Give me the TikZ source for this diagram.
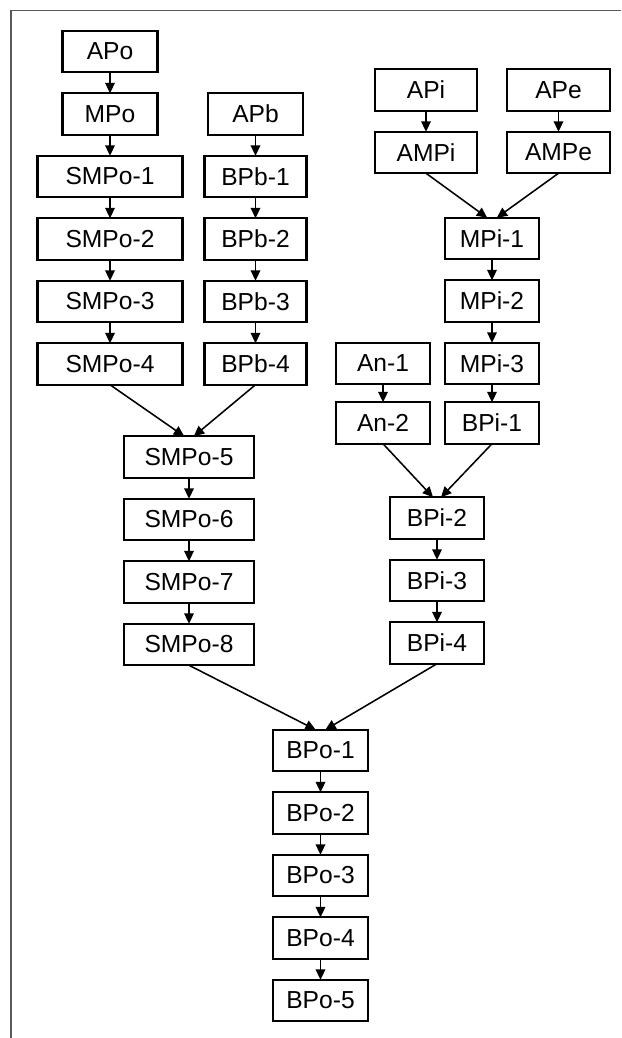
\documentclass[tikz,border=0pt]{standalone}
\usepackage{fontspec}
\setmainfont{Liberation Sans}
\usetikzlibrary{arrows.meta, positioning}

\begin{document}
\begin{tikzpicture}[
    node distance=0.525cm,
    every node/.style={font=\fontsize{17.5}{20}\selectfont},
    box/.style={rectangle, draw, line width=1.5pt, outer sep=0pt, inner sep=2pt, minimum width=2.375cm, minimum height=1.0375cm},
    widebox/.style={box, minimum width=3.625cm},
    midbox/.style={box, minimum width=3.25cm},
    arrow/.style={-{Triangle[length=2.6mm, width=2.4mm]}, line width=1.1pt},
    frame/.style={draw=black!65, line width=1.2pt}
]

\useasboundingbox (0, 0) rectangle (15.525, -25.95);

% page frame (top and left edge only)
\draw[frame] (15.525, -0.2625) -- (0.275, -0.2625) -- (0.275, -25.95);

% ============ OUTER BRANCH ============
\node[box] (apo) at (2.75, -1.2875) {APo};
\node[box, below=of apo] (mpo) {MPo};
\node[widebox, below=of mpo] (smpo1) {SMPo-1};
\node[widebox, below=of smpo1] (smpo2) {SMPo-2};
\node[widebox, below=of smpo2] (smpo3) {SMPo-3};
\node[widebox, below=of smpo3] (smpo4) {SMPo-4};

% side chain
\node[box] (apb) at (6.3875, -2.85) {APb};
\node[box, minimum width=2.55cm, below=of apb] (bpb1) {BPb-1};
\node[box, minimum width=2.55cm, below=of bpb1] (bpb2) {BPb-2};
\node[box, minimum width=2.55cm, below=of bpb2] (bpb3) {BPb-3};
\node[box, minimum width=2.55cm, below=of bpb3] (bpb4) {BPb-4};

% merged part
\node[midbox] (smpo5) at (4.725, -11.425) {SMPo-5};
\node[midbox, below=of smpo5] (smpo6) {SMPo-6};
\node[midbox, below=of smpo6] (smpo7) {SMPo-7};
\node[midbox, below=of smpo7] (smpo8) {SMPo-8};

% ============ INNER BRANCH ============
\node[box, minimum width=2.55cm] (api) at (10.65, -2.25) {APi};
\node[box, minimum width=2.55cm, below=of api] (ampi) {AMPi};
\node[box, minimum width=2.575cm] (ape) at (13.9625, -2.25) {APe};
\node[box, minimum width=2.575cm, below=of ape] (ampe) {AMPe};

\node[box, minimum width=2.35cm] (mpi1) at (12.3, -5.9625) {MPi-1};
\node[box, minimum width=2.35cm, below=of mpi1] (mpi2) {MPi-2};
\node[box, minimum width=2.35cm, below=of mpi2] (mpi3) {MPi-3};
\node[box, minimum width=2.35cm, below=0.45cm of mpi3] (bpi1) {BPi-1};

\node[box, minimum width=2.35cm] (an1) at (9.575, -9.0875) {An-1};
\node[box, minimum width=2.35cm, below=0.45cm of an1] (an2) {An-2};

\node[box, minimum width=2.35cm] (bpi2) at (10.925, -12.95) {BPi-2};
\node[box, minimum width=2.35cm, below=of bpi2] (bpi3) {BPi-3};
\node[box, minimum width=2.35cm, below=of bpi3] (bpi4) {BPi-4};

% ============ FINAL CHAIN ============
\node[box] (bpo1) at (8.0125, -18.7625) {BPo-1};
\node[box, below=of bpo1] (bpo2) {BPo-2};
\node[box, below=of bpo2] (bpo3) {BPo-3};
\node[box, below=of bpo3] (bpo4) {BPo-4};
\node[box, below=of bpo4] (bpo5) {BPo-5};

% ============ ARROWS ============
% outer branch
\draw[arrow] (apo.south) -- (mpo.north);
\draw[arrow] (mpo.south) -- (smpo1.north);
\draw[arrow] (smpo1.south) -- (smpo2.north);
\draw[arrow] (smpo2.south) -- (smpo3.north);
\draw[arrow] (smpo3.south) -- (smpo4.north);
\draw[arrow] (apb.south) -- (bpb1.north);
\draw[arrow] (bpb1.south) -- (bpb2.north);
\draw[arrow] (bpb2.south) -- (bpb3.north);
\draw[arrow] (bpb3.south) -- (bpb4.north);
\draw[arrow] (smpo4.south) -- ([xshift=-0.12cm]smpo5.north);
\draw[arrow] (bpb4.south) -- ([xshift=0.12cm]smpo5.north);
\draw[arrow] (smpo5.south) -- (smpo6.north);
\draw[arrow] (smpo6.south) -- (smpo7.north);
\draw[arrow] (smpo7.south) -- (smpo8.north);

% inner branch
\draw[arrow] (api.south) -- (ampi.north);
\draw[arrow] (ape.south) -- (ampe.north);
\draw[arrow] (ampi.south) -- ([xshift=-0.12cm]mpi1.north);
\draw[arrow] (ampe.south) -- ([xshift=0.12cm]mpi1.north);
\draw[arrow] (mpi1.south) -- (mpi2.north);
\draw[arrow] (mpi2.south) -- (mpi3.north);
\draw[arrow] (mpi3.south) -- (bpi1.north);
\draw[arrow] (an1.south) -- (an2.north);
\draw[arrow] (an2.south) -- ([xshift=-0.1cm]bpi2.north);
\draw[arrow] (bpi1.south) -- ([xshift=0.1cm]bpi2.north);
\draw[arrow] (bpi2.south) -- (bpi3.north);
\draw[arrow] (bpi3.south) -- (bpi4.north);

% both branches into the final chain
\draw[arrow] (smpo8.south) -- ([xshift=-0.12cm]bpo1.north);
\draw[arrow] (bpi4.south) -- ([xshift=0.12cm]bpo1.north);
\draw[arrow] (bpo1.south) -- (bpo2.north);
\draw[arrow] (bpo2.south) -- (bpo3.north);
\draw[arrow] (bpo3.south) -- (bpo4.north);
\draw[arrow] (bpo4.south) -- (bpo5.north);

\end{tikzpicture}
\end{document}
